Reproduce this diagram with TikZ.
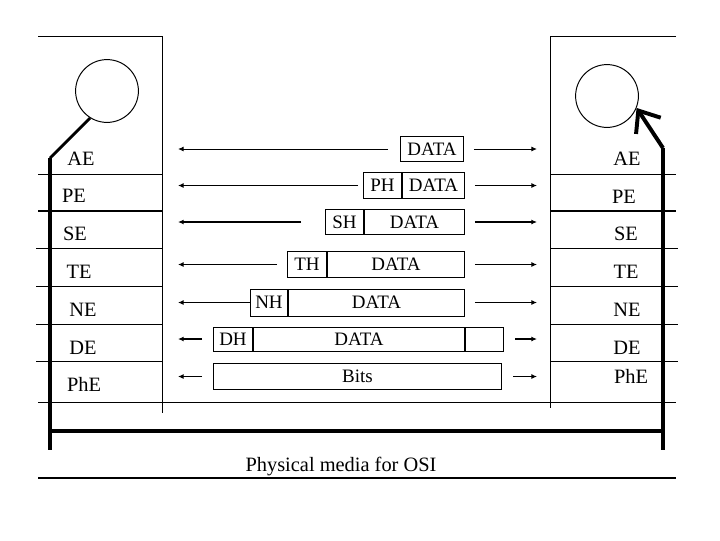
\documentclass[tikz,border=0pt]{standalone}
\usepackage{fontspec}
\setmainfont{Liberation Serif}
\usetikzlibrary{
	positioning,
	arrows.meta
}

\begin{document}
\begin{tikzpicture}[
	x=0.025cm, y=-0.025cm,
	layer/.style={font=\fontsize{14.5}{16}\selectfont, inner sep=0pt},
	pkt/.style={draw, line width=0.7pt, minimum height=0.63cm, inner sep=0pt,
		font=\fontsize{13.5}{16}\selectfont},
	flow/.style={-{Latex[length=4pt,width=3.5pt]}, line width=0.7pt},
	rule/.style={line width=0.7pt},
	post/.style={line width=2.8pt}
	]
	\useasboundingbox (0,0) rectangle (720,540);
	
	% left station
	\draw[rule] (38,36) -- (162,36) -- (162,413);
	\draw[rule] (38,174) -- (162,174);
	\draw[line width=1.4pt] (38,211) -- (162,211);
	\draw[rule] (36,248) -- (162,248);
	\draw[rule] (36,286) -- (162,286);
	\draw[rule] (36,324) -- (162,324);
	\draw[rule] (36,361) -- (162,361);
	
	% right station
	\draw[rule] (676,36) -- (550,36) -- (550,408);
	\draw[rule] (550,174) -- (676,174);
	\draw[line width=1.4pt] (550,211) -- (676,211);
	\draw[rule] (550,248) -- (678,248);
	\draw[rule] (550,286) -- (678,286);
	\draw[rule] (550,324) -- (678,324);
	\draw[rule] (550,361) -- (678,361);
	
	% layer names
	\node[layer] (lAE) at (81,159) {AE};
	\node[layer] (lPE) at (74,196) {PE};
	\node[layer] (lSE) at (75,234) {SE};
	\node[layer] (lTE) at (79,272) {TE};
	\node[layer] (lNE) at (83,310) {NE};
	\node[layer] (lDE) at (83,348) {DE};
	\node[layer] (lPhE) at (84,384) {PhE};
	
	\node[layer] (rAE) at (627,159) {AE};
	\node[layer] (rPE) at (624,197) {PE};
	\node[layer] (rSE) at (626,234) {SE};
	\node[layer] (rTE) at (626,272) {TE};
	\node[layer] (rNE) at (627,310) {NE};
	\node[layer] (rDE) at (627,348) {DE};
	\node[layer] (rPhE) at (631,376) {PhE};
	
	% users
	\node[draw, circle, line width=0.7pt, minimum size=1.57cm, inner sep=0pt] (lc) at (107,91) {};
	\node[draw, circle, line width=0.7pt, minimum size=1.57cm, inner sep=0pt] (rc) at (607,96) {};
	
	\coordinate (ltop) at (50,158);
	\coordinate (lbot) at (50,450);
	\coordinate (rtop) at (663,148);
	\coordinate (rbot) at (663,450);
	
	\draw[line width=2pt] (lc.-122) -- (ltop);
	\draw[post] (ltop) -- (lbot);
	\draw[post] (rtop) -- (rbot);
	\draw[post, -{Straight Barb[length=13pt,width=21pt]}] (rtop) -- (rc.-22);
	
	% packets
	\node[pkt, minimum width=1.575cm, anchor=west] (d1) at (400,149) {DATA};
	
	\node[pkt, minimum width=0.95cm, anchor=west] (ph) at (363,185.5) {PH};
	\node[pkt, minimum width=1.55cm, right=0pt of ph] (d2) {DATA};
	
	\node[pkt, minimum width=0.95cm, anchor=west] (sh) at (325,222) {SH};
	\node[pkt, minimum width=2.5cm, right=0pt of sh] (d3) {DATA};
	
	\node[pkt, minimum width=0.975cm, anchor=west] (th) at (287,264.5) {TH};
	\node[pkt, minimum width=3.425cm, right=0pt of th] (d4) {DATA};
	
	\node[pkt, minimum width=0.925cm, anchor=west, minimum height=0.675cm] (nh) at (250,302.5) {NH};
	\node[pkt, minimum width=4.4cm, right=0pt of nh, minimum height=0.675cm] (d5) {DATA};
	
	\node[pkt, minimum width=0.975cm, anchor=west, minimum height=0.6cm] (dh) at (213,339) {DH};
	\node[pkt, minimum width=5.275cm, right=0pt of dh, minimum height=0.6cm] (d6) {DATA};
	\node[pkt, minimum width=0.95cm, right=0pt of d6, minimum height=0.6cm] (dt) {};
	
	\node[pkt, minimum width=7.2cm, anchor=west] (bits) at (213,376.5) {Bits};
	
	% peer flows
	\coordinate (l1) at (178,149);   \coordinate (r1) at (537,149);
	\coordinate (l2) at (178,185.5); \coordinate (r2) at (537,185.5);
	\coordinate (l3) at (178,222);   \coordinate (r3) at (537,222);
	\coordinate (l4) at (178,264.5); \coordinate (r4) at (537,264.5);
	\coordinate (l5) at (178,302.5); \coordinate (r5) at (537,302.5);
	\coordinate (l6) at (178,339);   \coordinate (r6) at (537,339);
	\coordinate (l7) at (178,376.5); \coordinate (r7) at (537,376.5);
	
	\draw[flow, shorten <=8.5pt] (d1.west) -- (l1);
	\draw[flow, shorten <=7pt] (d1.east) -- (r1);
	\draw[flow, shorten <=3.5pt] (ph.west) -- (l2);
	\draw[flow, shorten <=7pt] (d2.east) -- (r2);
	\draw[flow, line width=1.4pt, shorten <=17pt] (sh.west) -- (l3);
	\draw[flow, line width=1.4pt, shorten <=7pt] (d3.east) -- (r3);
	\draw[flow, shorten <=7pt] (th.west) -- (l4);
	\draw[flow, shorten <=7pt] (d4.east) -- (r4);
	\draw[flow] (nh.west) -- (l5);
	\draw[flow, shorten <=7pt] (d5.east) -- (r5);
	\draw[flow, line width=1.4pt, shorten <=7.8pt] (dh.west) -- (l6);
	\draw[flow, line width=1.4pt, shorten <=7.8pt] (dt.east) -- (r6);
	\draw[flow, shorten <=7.8pt] (bits.west) -- (l7);
	\draw[flow, shorten <=7.8pt] (bits.east) -- (r7);
	
	% physical media
	\draw[rule] (38,402) -- (676,402);
	\draw[post] (50,431) -- (663,431);
	\node[layer] (media) at (341,467) {Physical media for OSI};
	\draw[line width=1.4pt] (38,478) -- (676,478);
	
\end{tikzpicture}
\end{document}
